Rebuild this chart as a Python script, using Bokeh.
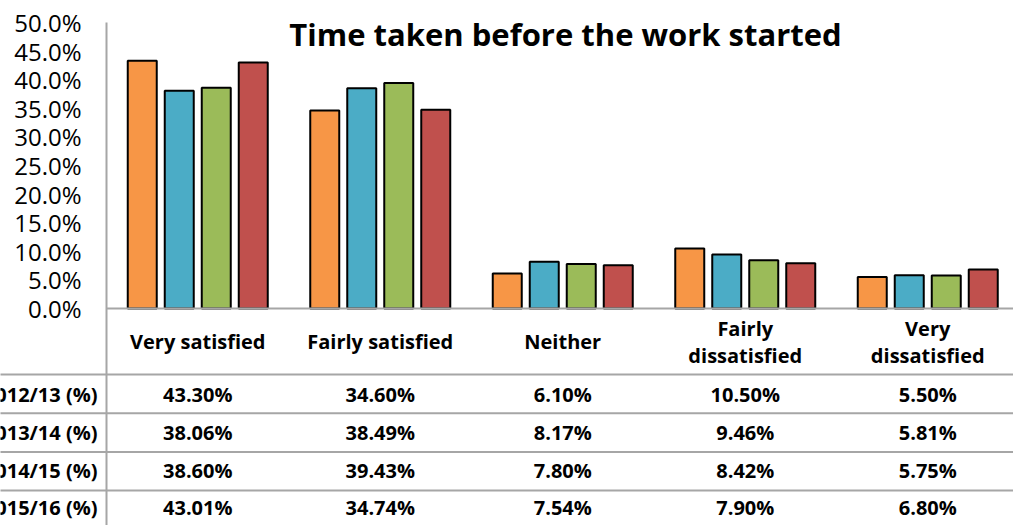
from bokeh.plotting import figure
from bokeh.models import Range1d, ColumnDataSource
from bokeh.core.properties import value
from bokeh.embed import file_html
from bokeh.resources import INLINE

# ---- data ----
categories = ["Very satisfied", "Fairly satisfied", "Neither",
              "Fairly\ndissatisfied", "Very\ndissatisfied"]
years = ["2012/13 (%)", "2013/14 (%)", "2014/15 (%)", "2015/16 (%)"]
v2012 = [43.30, 34.60, 6.10, 10.50, 5.50]
v2013 = [38.06, 38.49, 8.17, 9.46, 5.81]
v2014 = [38.60, 39.43, 7.80, 8.42, 5.75]
v2015 = [43.01, 34.74, 7.54, 7.90, 6.80]
series = [v2012, v2013, v2014, v2015]
colors = ["#F79646", "#4BACC6", "#9BBB59", "#C0504D"]
y_ticks = [0, 5, 10, 15, 20, 25, 30, 35, 40, 45, 50]
title = "Time taken before the work started"

FONT = "Open Sans"
GRAY = "#a6a6a6"

# geometry (pixels of the chart -> data units)
W, H = 1013, 525
AX_X = 106          # pixel x of the value axis
CAT_W = 182.5       # pixels per category
ZERO_Y = 308        # pixel y of 0 %
PX = 5.72           # pixels per percentage point


def dx(px):
    return (px - AX_X) / CAT_W


def dy(py):
    return (ZERO_Y - py) / PX


p = figure(width=W, height=H, output_backend="svg", toolbar_location=None,
           x_range=Range1d(dx(0), dx(W)), y_range=Range1d(dy(H), dy(0)),
           x_axis_location=None, y_axis_location=None,
           min_border=0, min_border_left=0, min_border_right=0,
           min_border_top=0, min_border_bottom=0)
p.xgrid.visible = False
p.ygrid.visible = False
p.outline_line_color = None
p.background_fill_color = "white"
p.border_fill_color = "white"

# value axis: line + tick labels
p.segment(x0=[0], y0=[max(y_ticks)], x1=[0], y1=[dy(H + 20)],
          line_color=GRAY, line_width=2)
tsrc = ColumnDataSource(dict(x=[dx(81)] * len(y_ticks), y=y_ticks,
                             t=[f"{t:.1f}%" for t in y_ticks]))
p.text(x="x", y="y", text="t", source=tsrc, text_align="right",
       text_baseline="middle", text_font=value(FONT), text_font_size="24px",
       text_color="#000000")

# bars
step = 37 / CAT_W
bw = 29 / CAT_W
for i, (vals, col) in enumerate(zip(series, colors)):
    xs = [c + 0.5 + (i - 1.5) * step for c in range(len(categories))]
    src = ColumnDataSource(dict(x=xs, top=vals))
    p.vbar(x="x", top="top", width=bw, bottom=0, source=src,
           fill_color=col, line_color="#000000", line_width=2)

# baseline
p.segment(x0=[0], y0=[0], x1=[dx(W + 20)], y1=[0], line_color=GRAY, line_width=2)

# table lines
header_h = 66 / PX
row_h = 38.7 / PX
line_ys = [-header_h - k * row_h for k in range(len(years))]
p.segment(x0=[dx(-10)] * len(line_ys), y0=line_ys,
          x1=[dx(W + 20)] * len(line_ys), y1=line_ys,
          line_color=GRAY, line_width=2)

# header labels
hsrc = ColumnDataSource(dict(x=[c + 0.5 for c in range(len(categories))],
                             y=[dy(341)] * len(categories), t=categories))
p.text(x="x", y="y", text="t", source=hsrc, text_align="center",
       text_baseline="middle", text_font=value(FONT), text_font_style="bold",
       text_font_size="20px", text_line_height=1.0, text_color="#000000")

# table values and row labels
text_row = 37.8 / PX
for k, vals in enumerate(series):
    yy = dy(394) - k * text_row
    vsrc = ColumnDataSource(dict(x=[c + 0.5 for c in range(len(categories))],
                                 y=[yy] * len(vals),
                                 t=[f"{v:.2f}%" for v in vals]))
    p.text(x="x", y="y", text="t", source=vsrc, text_align="center",
           text_baseline="middle", text_font=value(FONT), text_font_style="bold",
           text_font_size="20px", text_color="#000000")
    p.text(x=[dx(97)], y=[yy], text=[years[k]], text_align="right",
           text_baseline="middle", text_font=value(FONT), text_font_style="bold",
           text_font_size="20px", text_color="#000000")

# title
p.text(x=[dx(565)], y=[dy(33)], text=[title], text_align="center",
       text_baseline="middle", text_font=value(FONT), text_font_style="bold",
       text_font_size="31px", text_color="#000000")

open("out.html", "w").write(file_html(p, INLINE))
